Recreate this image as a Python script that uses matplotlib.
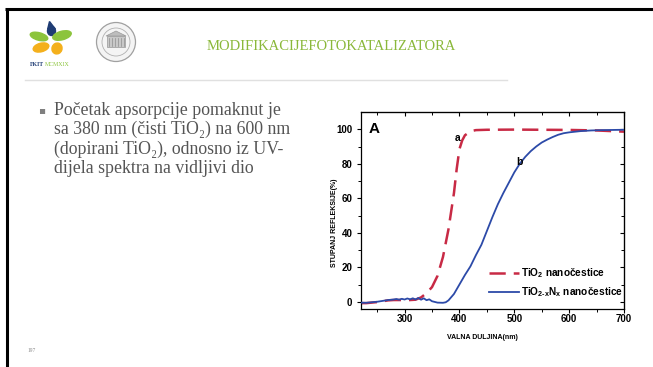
import matplotlib.pyplot as plt
from matplotlib.patches import Ellipse, Circle, Rectangle, Polygon

plt.rcParams['mathtext.fontset'] = 'custom'
plt.rcParams['mathtext.bf'] = 'Liberation Sans:bold'
plt.rcParams['mathtext.rm'] = 'Liberation Sans:bold'
plt.rcParams['mathtext.default'] = 'bf'

# reflectance spectra (wavelength nm, reflectance %)
wl_tio2 = [220, 230, 240, 250, 260, 270, 280, 290, 300, 310, 320, 330, 340, 350,
           360, 370, 380, 390, 395, 400, 405, 410, 420, 430, 450, 500, 550, 600,
           650, 700]
refl_tio2 = [-0.8, -0.8, -0.5, -0.2, 0.3, 0.8, 1.0, 1.0, 1.0, 1.0, 1.2, 2.5, 5.0, 8.5,
             15.0, 26.0, 42.0, 63.0, 77.0, 88.5, 93.5, 96.5, 98.8, 99.5, 99.7, 99.8,
             99.7, 99.6, 99.3, 98.6]

wl_tio2n = [220, 230, 240, 250, 260, 270, 280, 285, 290, 295, 300, 305, 310, 315,
            320, 325, 330, 335, 340, 345, 350, 360, 370, 375, 380, 390, 400, 410,
            420, 430, 440, 450, 460, 470, 480, 490, 500, 510, 520, 530, 540, 550,
            560, 570, 580, 590, 600, 620, 640, 660, 680, 700]
refl_tio2n = [-0.5, -0.6, -0.3, 0.0, 0.5, 1.0, 1.3, 1.6, 1.2, 1.7, 1.3, 1.9, 1.4, 2.0,
              1.3, 2.2, 1.2, 2.0, 0.9, 1.4, 0.3, -0.5, -0.6, -0.3, 0.8, 4.5, 10.0,
              15.5, 20.5, 27.0, 33.0, 41.0, 49.0, 56.5, 63.0, 69.0, 75.0, 80.0, 84.0,
              87.3, 90.0, 92.3, 94.0, 95.5, 96.8, 97.7, 98.2, 98.9, 99.3, 99.5, 99.6,
              99.7]

bullet_lines = ['Početak apsorpcije pomaknut je',
                'sa 380 nm (čisti TiO₂) na 600 nm',
                '(dopirani TiO₂), odnosno iz UV-',
                'dijela spektra na vidljivi dio']

W, H = 653, 367
fig = plt.figure(figsize=(W / 100, H / 100), dpi=100)

# slide background drawn in pixel coordinates
bg = fig.add_axes([0, 0, 1, 1])
bg.set_xlim(0, W)
bg.set_ylim(H, 0)
bg.axis('off')

bg.plot([6.5, 6.5], [7.5, H], color='black', lw=2.2, solid_capstyle='butt')
bg.plot([5, W], [8.7, 8.7], color='black', lw=2.2, solid_capstyle='butt')
bg.plot([25, 507], [79.5, 79.5], color='#e0e0e0', lw=1)

# faculty logo
bg.add_patch(Ellipse((51.5, 31), 8, 9, color='#1f3c74'))
bg.add_patch(Polygon([[47.7, 29], [55.3, 29], [49.5, 21.5]], color='#1f3c74'))
bg.add_patch(Ellipse((39, 36.5), 18, 7.5, angle=15, color='#8cc43c'))
bg.add_patch(Ellipse((62, 35.5), 19, 8.5, angle=-15, color='#8cc43c'))
bg.add_patch(Ellipse((41, 47.5), 16, 8.5, angle=-15, color='#f4b01c'))
bg.add_patch(Ellipse((57, 48.5), 10, 11, angle=20, color='#f4b01c'))
bg.text(30, 65, 'FKIT', fontsize=4.2, color='#1f3c74', family='Liberation Serif',
        weight='bold', va='center')
bg.text(44.5, 65, 'MCMXIX', fontsize=4.2, color='#8cc43c', family='Liberation Serif',
        va='center')

# university seal
bg.add_patch(Circle((116, 42), 19.5, fc='#f4f4f4', ec='#a0a0a0', lw=0.9))
bg.add_patch(Circle((116, 42), 14, fc='none', ec='#b0b0b0', lw=0.6))
bg.add_patch(Rectangle((107, 36), 18, 11, fc='#c8c8c8', ec='#999999', lw=0.5))
bg.add_patch(Polygon([[106, 36], [126, 36], [116, 31]], fc='#bdbdbd', ec='#999999', lw=0.5))
for xc in range(109, 125, 3):
    bg.plot([xc, xc], [38, 46], color='#8f8f8f', lw=0.5)

bg.text(331.5, 46.5, 'MODIFIKACIJEFOTOKATALIZATORA', fontsize=10.5, color='#8ab83a',
        family='Liberation Serif', ha='center', va='center')

bg.text(42, 110, '▪', fontsize=7.5, color='#7f7f7f', ha='center', va='center',
        family='DejaVu Sans')
for i, line in enumerate(bullet_lines):
    bg.text(54, 110.5 + i * 19.3, line, fontsize=12.8, color='#555555',
            family=['Liberation Serif', 'DejaVu Serif'], va='center')

bg.text(27, 350, '197', fontsize=4, color='#8a8a8a', family='Liberation Serif',
        va='center')

# reflectance chart
ax = fig.add_axes([360.7 / W, (H - 309) / H, 263.3 / W, 197 / H])
red, = ax.plot(wl_tio2, refl_tio2, color='#c82a45', lw=1.8, ls=(0, (6.5, 3.2)), zorder=2)
blue, = ax.plot(wl_tio2n, refl_tio2n, color='#2c4aa8', lw=1.3, zorder=3)
ax.set_xlim(220, 700)
ax.set_ylim(-4.2, 110)
ax.set_xticks([300, 400, 500, 600, 700])
ax.set_xticks([250, 350, 450, 550, 650], minor=True)
ax.set_yticks([0, 20, 40, 60, 80, 100])
ax.set_yticks([10, 30, 50, 70, 90], minor=True)
for s in ax.spines.values():
    s.set_linewidth(0.9)
ax.tick_params(which='major', direction='out', length=3, width=0.8)
ax.tick_params(which='minor', direction='out', length=2, width=0.7)
ax.tick_params(axis='x', pad=0.5)
ax.tick_params(axis='y', pad=3)
for lab in ax.get_xticklabels() + ax.get_yticklabels():
    lab.set_family('Liberation Sans')
    lab.set_weight('bold')
    lab.set_fontsize(7)

top = ax.secondary_xaxis('top')
top.set_xticks([300, 400, 500, 600, 700])
top.set_xticks([250, 350, 450, 550, 650], minor=True)
top.tick_params(which='major', direction='in', length=3, width=0.8, labeltop=False)
top.tick_params(which='minor', direction='in', length=2, width=0.7)
right = ax.secondary_yaxis('right')
right.set_yticks([0, 20, 40, 60, 80, 100])
right.set_yticks([10, 30, 50, 70, 90], minor=True)
right.tick_params(which='major', direction='in', length=3, width=0.8, labelright=False)
right.tick_params(which='minor', direction='in', length=2, width=0.7)

ax.set_xlabel('VALNA DULJINA(nm)', family='Liberation Sans', weight='bold', fontsize=5)
ax.xaxis.set_label_coords(0.464, -0.145)
ax.xaxis.label.set_va('center')
ax.set_ylabel('STUPANJ REFLEKSIJE(%)', family='Liberation Sans', weight='bold', fontsize=5)
ax.yaxis.set_label_coords(-0.098, 0.44)
ax.yaxis.label.set_va('center')

ax.text(235, 100, 'A', family='Liberation Sans', weight='bold', fontsize=11, va='center')
ax.text(396, 95, 'a', family='Liberation Sans', weight='bold', fontsize=7.5,
        ha='center', va='center')
ax.text(509, 81, 'b', family='Liberation Sans', weight='bold', fontsize=7.5,
        ha='center', va='center')

ax.legend([red, blue], [r'TiO$_2$ nanočestice', r'TiO$_{2\text{-}x}$N$_x$ nanočestice'],
          loc='center left', bbox_to_anchor=(0.487, 0.132), frameon=False,
          borderpad=0, borderaxespad=0, handlelength=3.0, handletextpad=0.15,
          labelspacing=0.5,
          prop={'family': 'Liberation Sans', 'weight': 'bold', 'size': 7.3})

fig.savefig('out.png', dpi=100)
